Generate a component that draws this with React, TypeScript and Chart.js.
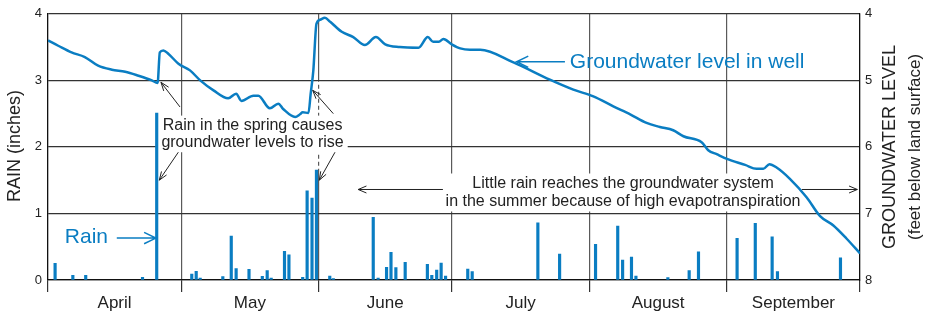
import React, { useEffect, useRef } from 'react';
import { Chart, registerables } from 'chart.js';

Chart.register(...registerables);

// ---- data ----
const monthNames = ['April', 'May', 'June', 'July', 'August', 'September'];
const monthLengths = [30, 31, 30, 31, 31, 30];

// day offset from 1 April, rain in inches
const rainDays = [1.6, 5.6, 8.5, 21.3, 24.5, 32.4, 33.4, 34.3, 39.4, 41.3, 42.4, 45.3, 48.3, 49.4, 50.3, 53.3, 54.3, 57.4, 58.4, 59.5, 60.5, 63.5, 64.3, 73.3, 74.4, 76.3, 77.3, 78.4, 80.5, 85.5, 86.5, 87.6, 88.6, 89.6, 94.6, 95.6, 110.4, 115.3, 123.4, 128.4, 129.5, 131.5, 132.5, 139.7, 144.5, 146.6, 155.3, 159.4, 163.2, 164.4, 178.6];
const rainInches = [0.25, 0.07, 0.07, 0.04, 2.51, 0.09, 0.13, 0.03, 0.05, 0.66, 0.17, 0.16, 0.055, 0.14, 0.03, 0.43, 0.38, 0.04, 1.34, 1.23, 1.65, 0.06, 0.02, 0.94, 0.03, 0.19, 0.415, 0.185, 0.265, 0.235, 0.07, 0.15, 0.255, 0.06, 0.165, 0.125, 0.86, 0.39, 0.535, 0.81, 0.3, 0.345, 0.06, 0.035, 0.14, 0.425, 0.625, 0.85, 0.65, 0.125, 0.335];

// groundwater level, feet below land surface
const wellDays = [0, 2.3, 5.3, 8.3, 11.3, 14.4, 17.4, 20.4, 23.4, 24.7, 25.2, 26.0, 27.1, 29.4, 32.0, 34.3, 37.3, 40.6, 42.4, 43.6, 46.3, 47.4, 50.0, 51.9, 53.0, 55.7, 56.8, 57.4, 58.7, 59.2, 59.8, 60.5, 61.3, 62.4, 63.6, 66.2, 68.8, 71.4, 73.9, 76.0, 79.3, 83.5, 85.6, 86.8, 88.1, 89.1, 91.0, 92.9, 95.1, 97.4, 104.9, 113.1, 118.4, 122.9, 127.4, 131.2, 134.9, 137.9, 140.9, 143.2, 147.3, 148.8, 150.7, 153.0, 157.1, 159.7, 161.2, 162.6, 164.2, 167.2, 171.0, 174.0, 177.0, 180.0, 183.0];
const wellLevels = [4.40, 4.48, 4.58, 4.65, 4.78, 4.84, 4.87, 4.93, 5.00, 5.04, 4.58, 4.55, 4.60, 4.75, 4.85, 5.00, 5.15, 5.27, 5.20, 5.31, 5.23, 5.23, 5.42, 5.35, 5.43, 5.55, 5.51, 5.48, 5.49, 5.20, 4.85, 4.15, 4.09, 4.06, 4.12, 4.27, 4.35, 4.47, 4.35, 4.46, 4.50, 4.51, 4.35, 4.42, 4.42, 4.38, 4.46, 4.52, 4.54, 4.54, 4.73, 4.99, 5.14, 5.24, 5.39, 5.51, 5.64, 5.70, 5.75, 5.84, 5.93, 6.05, 6.11, 6.18, 6.27, 6.33, 6.33, 6.26, 6.31, 6.48, 6.76, 7.04, 7.18, 7.38, 7.60];

const rainRange = [0, 4];
const levelRange = [4, 8];

const BLUE = '#0a7dc2';
const INK = '#222';
const FONT = '"Liberation Sans", Arial, Helvetica, sans-serif';

const boundaries: number[] = [0];
monthLengths.forEach((d, i) => boundaries.push(boundaries[i] + d));
const centers = monthNames.map((_, i) => (boundaries[i] + boundaries[i + 1]) / 2);

function arrow(ctx: CanvasRenderingContext2D, x1: number, y1: number, x2: number, y2: number, head: number, spread: number) {
  ctx.beginPath();
  ctx.moveTo(x1, y1);
  ctx.lineTo(x2, y2);
  const a = Math.atan2(y2 - y1, x2 - x1);
  ctx.moveTo(x2 - head * Math.cos(a - spread), y2 - head * Math.sin(a - spread));
  ctx.lineTo(x2, y2);
  ctx.lineTo(x2 - head * Math.cos(a + spread), y2 - head * Math.sin(a + spread));
  ctx.stroke();
}

const springLines = ['Rain in the spring causes', 'groundwater levels to rise'];
const summerLines = ['Little rain reaches the groundwater system', 'in the summer because of high evapotranspiration'];

const annotPlugin = {
  id: 'annot',
  beforeDatasetsDraw(chart: any) {
    const { ctx, scales } = chart;
    const X = (v: number) => scales.x.getPixelForValue(v);
    const Y = (v: number) => scales.y.getPixelForValue(v);
    ctx.save();
    ctx.font = `16px ${FONT}`;
    ctx.fillStyle = '#fff';
    // spring box
    {
      const w = Math.max(...springLines.map(t => ctx.measureText(t).width));
      const cx = X(46.1);
      ctx.fillRect(cx - w / 2 - 4, Y(2.32) - 10, w + 8, Y(2.07) - Y(2.32) + 20);
    }
    // summer box
    {
      const w = Math.max(...summerLines.map(t => ctx.measureText(t).width));
      const cx = X(129.6);
      ctx.fillRect(cx - w / 2 - 4, Y(1.45) - 10, w + 8, Y(1.18) - Y(1.45) + 20);
    }
    // dashed leader along June line
    ctx.strokeStyle = '#fff';
    ctx.lineWidth = 3;
    ctx.setLineDash([3, 4]);
    ctx.beginPath();
    ctx.moveTo(X(boundaries[2]), Y(2.98));
    ctx.lineTo(X(boundaries[2]), Y(1.65));
    ctx.stroke();
    ctx.restore();
  },
  afterDatasetsDraw(chart: any) {
    const { ctx, scales, chartArea } = chart;
    const X = (v: number) => scales.x.getPixelForValue(v);
    const Y = (v: number) => scales.y.getPixelForValue(v);
    ctx.save();
    ctx.textAlign = 'center';
    ctx.textBaseline = 'middle';
    ctx.fillStyle = INK;
    ctx.font = `16px ${FONT}`;
    ctx.fillText(springLines[0], X(46.1), Y(2.32));
    ctx.fillText(springLines[1], X(46.1), Y(2.07));
    ctx.fillText(summerLines[0], X(129.6), Y(1.45));
    ctx.fillText(summerLines[1], X(129.6), Y(1.18));

    ctx.strokeStyle = '#222';
    ctx.lineWidth = 1;
    arrow(ctx, X(29.75), Y(2.6), X(25.47), Y(2.97), 9, 0.35);
    arrow(ctx, X(29.37), Y(1.92), X(25.08), Y(1.5), 9, 0.35);
    arrow(ctx, X(64.3), Y(2.5), X(59.66), Y(2.85), 9, 0.35);
    arrow(ctx, X(64.68), Y(1.92), X(61.14), Y(1.5), 9, 0.35);
    arrow(ctx, X(89.0), Y(1.36), X(69.9), Y(1.36), 9, 0.4);
    arrow(ctx, X(169.9), Y(1.36), X(182.4), Y(1.36), 9, 0.4);

    // blue labels
    ctx.fillStyle = BLUE;
    ctx.strokeStyle = BLUE;
    ctx.lineWidth = 1.5;
    ctx.font = `21px ${FONT}`;
    ctx.textAlign = 'left';
    ctx.fillText('Groundwater level in well', X(117.6), Y(3.27));
    arrow(ctx, X(116.5), Y(3.28), X(105.6), Y(3.28), 13, 0.45);
    ctx.fillText('Rain', X(3.8), Y(0.65));
    arrow(ctx, X(15.5), Y(0.63), X(24.3), Y(0.63), 13, 0.45);

    // axis titles
    ctx.fillStyle = INK;
    ctx.textAlign = 'center';
    const midY = (chartArea.top + chartArea.bottom) / 2;
    const rot = (x: number, y: number, text: string, size: number) => {
      ctx.save();
      ctx.translate(x, y);
      ctx.rotate(-Math.PI / 2);
      ctx.font = `${size}px ${FONT}`;
      ctx.fillText(text, 0, 0);
      ctx.restore();
    };
    rot(chartArea.left - 33, midY - 1, 'RAIN (inches)', 18);
    rot(chartArea.right + 30, midY, 'GROUNDWATER LEVEL', 18);
    rot(chartArea.right + 55, midY, '(feet below land surface)', 17);
    ctx.restore();
  },
};

export default function App() {
  const ref = useRef<HTMLCanvasElement>(null);
  useEffect(() => {
    if (!ref.current) return;
    const isBoundary = (v: number) => boundaries.includes(v);
    const chart = new Chart(ref.current, {
      type: 'line',
      data: {
        datasets: [
          {
            type: 'line',
            label: 'Groundwater level in well',
            data: wellDays.map((d, i) => ({ x: d, y: wellLevels[i] })),
            xAxisID: 'x',
            yAxisID: 'y2',
            borderColor: BLUE,
            borderWidth: 2.5,
            pointRadius: 0,
            cubicInterpolationMode: 'monotone',
            fill: false,
            order: 0,
          },
          {
            type: 'bar',
            label: 'Rain',
            data: rainDays.map((d, i) => ({ x: d, y: rainInches[i] })),
            xAxisID: 'x',
            yAxisID: 'y',
            backgroundColor: BLUE,
            borderWidth: 0,
            barThickness: 2.5,
            grouped: false,
            order: 1,
          } as any,
        ],
      },
      options: {
        responsive: false,
        animation: false,
        devicePixelRatio: 1,
        layout: { padding: { top: 13, left: 0, right: 0, bottom: 0 } },
        plugins: { legend: { display: false }, tooltip: { enabled: false } },
        scales: {
          x: {
            type: 'linear',
            min: boundaries[0],
            max: boundaries[boundaries.length - 1],
            offset: false,
            afterBuildTicks: (s: any) => {
              s.ticks = [...boundaries, ...centers].sort((a, b) => a - b).map(v => ({ value: v }));
            },
            afterFit: (s: any) => { s.height = 35; },
            grid: {
              offset: false,
              color: (c: any) => (c.tick && isBoundary(c.tick.value) ? '#5a5a5a' : 'rgba(0,0,0,0)'),
              tickColor: (c: any) => (c.tick && isBoundary(c.tick.value) ? '#333' : 'rgba(0,0,0,0)'),
              tickLength: 12,
              lineWidth: 1.2,
            },
            border: { display: true, color: '#111', width: 1.2 },
            ticks: {
              autoSkip: false,
              maxRotation: 0,
              minRotation: 0,
              padding: 1,
              color: INK,
              font: { family: FONT, size: 17 },
              callback: (v: any) => {
                const i = centers.indexOf(Number(v));
                return i >= 0 ? monthNames[i] : '';
              },
            },
          },
          y: {
            type: 'linear',
            position: 'left',
            min: rainRange[0],
            max: rainRange[1],
            afterFit: (s: any) => { s.width = 48; },
            grid: { color: '#333', lineWidth: 1.2, drawTicks: false },
            border: { display: true, color: '#111', width: 1.2 },
            ticks: { stepSize: 1, padding: 6, color: INK, font: { family: FONT, size: 13 } },
          },
          y2: {
            type: 'linear',
            position: 'right',
            min: levelRange[0],
            max: levelRange[1],
            reverse: true,
            afterFit: (s: any) => { s.width = 69; },
            grid: { drawOnChartArea: false, drawTicks: false },
            border: { display: true, color: '#111', width: 1.2 },
            ticks: { stepSize: 1, padding: 5, color: INK, font: { family: FONT, size: 13 } },
          },
        },
      },
      plugins: [annotPlugin],
    } as any);
    return () => chart.destroy();
  }, []);
  return (
    <div style={{ position: 'fixed', left: 0, top: 0, width: 929, height: 315, background: '#fff' }}>
      <canvas ref={ref} width={929} height={315} style={{ width: 929, height: 315, display: 'block' }} />
    </div>
  );
}
